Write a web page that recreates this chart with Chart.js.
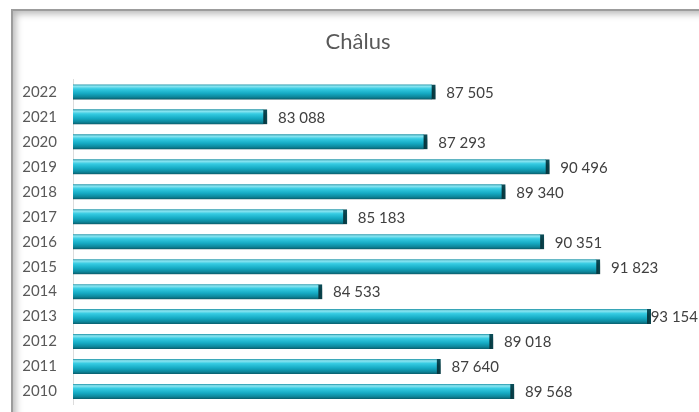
<!DOCTYPE html>
<html>
<head>
<meta charset="utf-8">
<script src="https://cdn.jsdelivr.net/npm/chart.js@4"></script>
<style>
  html, body { margin: 0; padding: 0; background: #fff; width: 699px; height: 412px; overflow: hidden; position: relative; }
  #frame { position: absolute; left: 11px; top: 9px; width: 800px; height: 500px;
           border-left: 2px solid #9c9c9c; border-top: 2px solid #9c9c9c;
           box-shadow: inset 5px 5px 7px -2px rgba(0,0,0,0.28); }
  #c { position: absolute; left: 0; top: 0; }
</style>
</head>
<body>
<div id="frame"></div>
<canvas id="c" width="720" height="429"></canvas>
<script>
const chartTitle = 'Châlus';
const years = ['2022','2021','2020','2019','2018','2017','2016','2015','2014','2013','2012','2011','2010'];
const population = [87505, 83088, 87293, 90496, 89340, 85183, 90351, 91823, 84533, 93154, 89018, 87640, 89568];

function fmt(v) { return String(v).replace(/\B(?=(\d{3})+(?!\d))/g, ' '); }

const BAR_T = 15;

function barGradient(ctx) {
  if (ctx.type !== 'data') return '#19b8d2';
  const chart = ctx.chart;
  const ys = chart.scales && chart.scales.y;
  if (!ys || ys.top === undefined) return '#19b8d2';
  const yc = ys.getPixelForValue(ctx.dataIndex);
  if (!isFinite(yc)) return '#19b8d2';
  const g = chart.ctx.createLinearGradient(0, yc - BAR_T / 2, 0, yc + BAR_T / 2);
  g.addColorStop(0, '#1f94a7');
  g.addColorStop(0.12, '#8fe6f2');
  g.addColorStop(0.3, '#35cbe2');
  g.addColorStop(0.6, '#15aac3');
  g.addColorStop(0.85, '#0d8599');
  g.addColorStop(1, '#0a5c6a');
  return g;
}

const shadowPlugin = {
  id: 'barShadow',
  beforeDatasetsDraw(chart) {
    const c = chart.ctx;
    c.save();
    c.shadowColor = 'rgba(0,0,0,0.33)';
    c.shadowOffsetX = 3;
    c.shadowOffsetY = 4;
    c.shadowBlur = 4;
  },
  afterDatasetsDraw(chart) { chart.ctx.restore(); }
};

const labelPlugin = {
  id: 'valueLabels',
  afterDraw(chart) {
    const c = chart.ctx;
    const meta = chart.getDatasetMeta(0);
    c.save();
    c.font = '15px Lato';
    c.fillStyle = '#404040';
    c.textBaseline = 'middle';
    c.textAlign = 'left';
    meta.data.forEach((el, i) => {
      const txt = fmt(chart.data.datasets[0].data[i]);
      const w = c.measureText(txt).width;
      let x = el.x + 11;
      if (x + w > 698) x = 698 - w;
      c.fillText(txt, x, el.y + 1);
    });
    c.restore();
  }
};

new Chart(document.getElementById('c'), {
  type: 'bar',
  data: {
    labels: years,
    datasets: [{
      data: population,
      backgroundColor: barGradient,
      borderColor: '#0b4d58',
      borderWidth: { top: 0, bottom: 0, left: 0, right: 4 },
      borderSkipped: 'start',
      barThickness: BAR_T
    }]
  },
  options: {
    indexAxis: 'y',
    responsive: false,
    animation: false,
    events: [],
    layout: { padding: { left: 14, right: 18, top: 0, bottom: 8 } },
    plugins: {
      legend: { display: false },
      tooltip: { enabled: false },
      title: {
        display: true,
        text: chartTitle,
        color: '#595959',
        font: { family: 'Lato', size: 22, weight: 'normal' },
        padding: { top: 29, bottom: 24 }
      }
    },
    scales: {
      x: { display: false, min: 78000, max: 94500 },
      y: {
        grid: { display: false, drawTicks: false },
        border: { display: true, color: '#dcdcdc', width: 1 },
        ticks: { color: '#595959', font: { family: 'Lato', size: 15 }, padding: 16 },
        afterFit(scale) { scale.width = 59; }
      }
    }
  },
  plugins: [shadowPlugin, labelPlugin]
});
</script>
</body>
</html>
